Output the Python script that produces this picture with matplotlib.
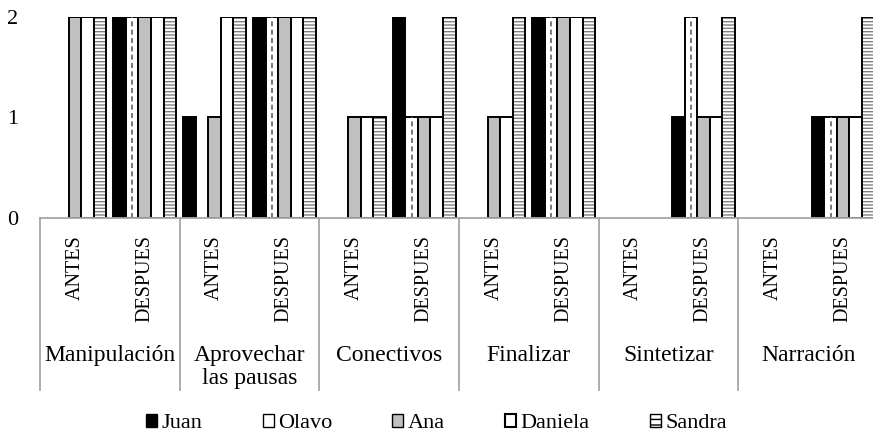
import numpy as np
import matplotlib.pyplot as plt
import matplotlib.transforms as mtransforms
from matplotlib.patches import Patch

plt.rcParams['font.family'] = ['Liberation Serif', 'DejaVu Serif']
plt.rcParams['hatch.linewidth'] = 1.0

categories = ['Manipulación', 'Aprovechar\nlas pausas', 'Conectivos',
              'Finalizar', 'Sintetizar', 'Narración']
moments = ['ANTES', 'DESPUES']
names = ['Juan', 'Olavo', 'Ana', 'Daniela', 'Sandra']

# one value per (category, moment): ANTES, DESPUES, ANTES, DESPUES ...
juan = [0, 2, 1, 2, 0, 2, 0, 2, 0, 1, 0, 1]
olavo = [0, 2, 0, 2, 0, 1, 0, 2, 0, 2, 0, 1]
ana = [2, 2, 1, 2, 1, 1, 1, 2, 0, 1, 0, 1]
daniela = [2, 2, 2, 2, 1, 1, 1, 2, 0, 1, 0, 1]
sandra = [2, 2, 2, 2, 1, 2, 2, 2, 0, 2, 0, 2]
yticks = [0, 1, 2]

series = [juan, olavo, ana, daniela, sandra]

fig = plt.figure(figsize=(8.73, 4.37), dpi=100)
ax = fig.add_axes([40/873, 219/437, 838/873, 201/437])

x = np.arange(len(juan))
w = 0.18
edge_lw = 1.4

for k, vals in enumerate(series):
    vals = np.array(vals, dtype=float)
    pos = x + (k - 2) * w
    lw = np.where(vals > 0, edge_lw, 0)
    if k == 0:
        ax.bar(pos, vals, w, color='black', edgecolor='black', linewidth=lw)
    elif k == 1:
        ax.bar(pos, vals, w, color='white', edgecolor='black', linewidth=lw)
        for p, v in zip(pos, vals):
            if v > 0:
                ax.plot([p, p], [0, v], color='#606060', lw=1.2,
                        linestyle=(0, (3, 2)))
    elif k == 2:
        ax.bar(pos, vals, w, color='#c0c0c0', edgecolor='black', linewidth=lw)
    elif k == 3:
        ax.bar(pos, vals, w, color='white', edgecolor='black', linewidth=lw)
    else:
        ax.bar(pos, vals, w, color='white', edgecolor='#808080',
               hatch='-----', linewidth=0)
        ax.bar(pos, vals, w, color='none', edgecolor='black', linewidth=lw)

ax.set_xlim(-0.5, len(juan) - 0.5)
ax.set_ylim(0, 2)
ax.set_yticks(yticks)
ax.set_yticklabels([str(t) for t in yticks], fontsize=16)
ax.tick_params(axis='y', length=0, pad=16)
ax.set_xticks([])
for s in ['top', 'right', 'left']:
    ax.spines[s].set_visible(False)
ax.spines['bottom'].set_color('#a6a6a6')
ax.spines['bottom'].set_linewidth(1.3)

trans = mtransforms.blended_transform_factory(ax.transData, ax.transAxes)
for i in range(len(juan)):
    ax.text(x[i], -0.085, moments[i % 2], rotation=90, ha='center', va='top',
            fontsize=14.5, transform=trans)
for j, cat in enumerate(categories):
    ax.text(2 * j + 0.5, -0.63, cat, ha='center', va='top', fontsize=17,
            linespacing=1.15, transform=trans)
for j in range(len(categories) + 1):
    ax.plot([2 * j - 0.5, 2 * j - 0.5], [0, -0.856], color='#a6a6a6', lw=1.3,
            transform=trans, clip_on=False)

handles = [
    Patch(facecolor='black', edgecolor='black'),
    Patch(facecolor='white', edgecolor='black', hatch='|'),
    Patch(facecolor='#c0c0c0', edgecolor='black'),
    Patch(facecolor='white', edgecolor='black', linewidth=1.5),
    Patch(facecolor='white', edgecolor='black', hatch='---'),
]
fig.legend(handles, names, loc='center', bbox_to_anchor=(0.5, 1 - 423.5/437),
           ncol=5, frameon=False, fontsize=16, handlelength=0.5,
           handleheight=0.5, handletextpad=0.2, columnspacing=2.7,
           borderpad=0, borderaxespad=0)

plt.savefig('out.png', dpi=100)
